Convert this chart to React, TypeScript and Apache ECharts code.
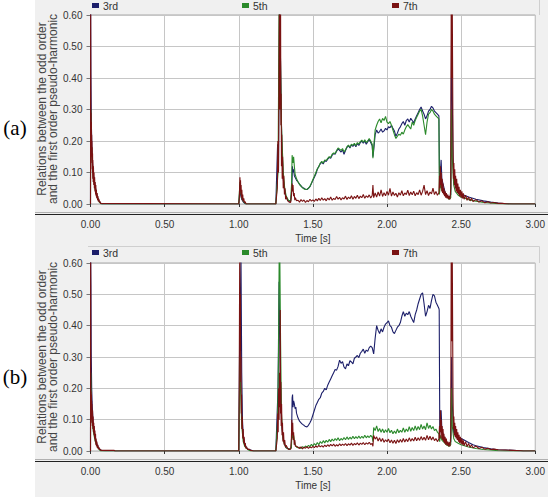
import React, { useEffect, useRef } from "react";
import * as echarts from "echarts";

type P = [number, number];

const SERIES_NAMES = ["3rd", "5th", "7th"];
const X_TICKS = [0, 0.5, 1, 1.5, 2, 2.5, 3];
const Y_TICKS = [0, 0.1, 0.2, 0.3, 0.4, 0.5, 0.6];

// Panel (a)
const A_3RD: P[] = [
  [0, 0], [0.001, 0.62], [0.003, 0.41], [0.006, 0.25], [0.01, 0.17], [0.015, 0.12], [0.02, 0.09], [0.03, 0.06], [0.04, 0.035], [0.05, 0.018], [0.06, 0.008], [0.07, 0.002], [0.08, 0],
  [1.0, 0], [1.008, 0.05], [1.012, 0.03], [1.02, 0.015], [1.03, 0.007], [1.04, 0.002], [1.05, 0],
  [1.25, 0], [1.262, 0.19], [1.268, 0.1], [1.275, 0.62], [1.282, 0.45], [1.29, 0.2], [1.3, 0.08], [1.31, 0.04], [1.32, 0.02], [1.335, 0.01], [1.35, 0.008],
  [1.358, 0.05], [1.362, 0.12], [1.366, 0.1], [1.37, 0.11], [1.375, 0.09], [1.38, 0.085], [1.39, 0.075], [1.4, 0.07], [1.41, 0.062], [1.42, 0.058], [1.43, 0.052], [1.44, 0.05], [1.45, 0.047], [1.46, 0.046], [1.47, 0.05], [1.48, 0.055], [1.49, 0.065],
  [1.5, 0.075], [1.51, 0.085], [1.52, 0.095], [1.53, 0.11], [1.54, 0.12], [1.55, 0.128], [1.56, 0.132], [1.57, 0.127], [1.58, 0.138], [1.59, 0.135],
  [1.6, 0.142], [1.61, 0.148], [1.62, 0.145], [1.63, 0.155], [1.64, 0.16], [1.65, 0.158], [1.66, 0.168], [1.67, 0.175], [1.68, 0.17], [1.69, 0.165],
  [1.7, 0.172], [1.71, 0.158], [1.72, 0.17], [1.73, 0.18], [1.74, 0.185], [1.75, 0.178], [1.76, 0.188], [1.77, 0.183], [1.78, 0.19], [1.79, 0.182],
  [1.8, 0.192], [1.81, 0.186], [1.82, 0.195], [1.83, 0.2], [1.84, 0.193], [1.85, 0.2], [1.86, 0.19], [1.87, 0.198], [1.88, 0.205], [1.89, 0.195],
  [1.9, 0.185], [1.905, 0.15], [1.91, 0.17], [1.92, 0.22], [1.93, 0.235], [1.94, 0.225], [1.95, 0.23], [1.96, 0.238], [1.97, 0.228], [1.98, 0.232], [1.99, 0.24],
  [2.0, 0.235], [2.01, 0.245], [2.02, 0.242], [2.03, 0.25], [2.04, 0.24], [2.05, 0.232], [2.06, 0.215], [2.07, 0.225], [2.08, 0.238], [2.09, 0.245],
  [2.1, 0.255], [2.11, 0.262], [2.12, 0.25], [2.13, 0.265], [2.14, 0.27], [2.15, 0.26], [2.16, 0.272], [2.17, 0.265], [2.18, 0.258], [2.19, 0.27],
  [2.2, 0.28], [2.21, 0.29], [2.22, 0.3], [2.23, 0.308], [2.24, 0.295], [2.25, 0.285], [2.26, 0.27], [2.27, 0.28], [2.28, 0.295], [2.29, 0.3],
  [2.3, 0.31], [2.31, 0.305], [2.32, 0.295], [2.33, 0.29], [2.34, 0.285], [2.35, 0.28], [2.355, 0.05], [2.36, 0.1], [2.365, 0.14], [2.37, 0.08], [2.38, 0.06], [2.39, 0.04],
  [2.4, 0.03], [2.41, 0.025], [2.42, 0.02], [2.43, 0.03], [2.435, 0.52], [2.44, 0.35], [2.445, 0.15], [2.45, 0.09], [2.46, 0.06], [2.47, 0.045], [2.48, 0.04],
  [2.5, 0.032], [2.55, 0.022], [2.6, 0.015], [2.65, 0.01], [2.7, 0.006], [2.75, 0.003], [2.8, 0.001], [2.85, 0], [3.0, 0],
];

const A_5TH: P[] = [
  [0, 0], [0.002, 0.3], [0.005, 0.2], [0.01, 0.15], [0.02, 0.08], [0.03, 0.05], [0.04, 0.03], [0.05, 0.015], [0.06, 0.006], [0.07, 0],
  [1.0, 0], [1.008, 0.07], [1.012, 0.04], [1.02, 0.02], [1.03, 0.01], [1.04, 0.003], [1.05, 0],
  [1.25, 0], [1.265, 0.1], [1.272, 0.62], [1.28, 0.5], [1.288, 0.25], [1.3, 0.1], [1.31, 0.05], [1.32, 0.025], [1.335, 0.012], [1.35, 0.01],
  [1.356, 0.06], [1.36, 0.155], [1.365, 0.13], [1.37, 0.15], [1.375, 0.12], [1.38, 0.095], [1.39, 0.08], [1.4, 0.07], [1.41, 0.063], [1.42, 0.056], [1.43, 0.052], [1.44, 0.048], [1.45, 0.046], [1.46, 0.047], [1.47, 0.05], [1.48, 0.056], [1.49, 0.066],
  [1.5, 0.078], [1.51, 0.088], [1.52, 0.1], [1.53, 0.112], [1.54, 0.118], [1.55, 0.13], [1.56, 0.135], [1.57, 0.13], [1.58, 0.14], [1.59, 0.138],
  [1.6, 0.145], [1.61, 0.15], [1.62, 0.148], [1.63, 0.158], [1.64, 0.162], [1.65, 0.16], [1.66, 0.17], [1.67, 0.178], [1.68, 0.174], [1.69, 0.17],
  [1.7, 0.176], [1.71, 0.165], [1.72, 0.172], [1.73, 0.182], [1.74, 0.187], [1.75, 0.18], [1.76, 0.19], [1.77, 0.186], [1.78, 0.193], [1.79, 0.185],
  [1.8, 0.195], [1.81, 0.19], [1.82, 0.198], [1.83, 0.203], [1.84, 0.196], [1.85, 0.204], [1.86, 0.195], [1.87, 0.2], [1.88, 0.208], [1.89, 0.2],
  [1.9, 0.19], [1.905, 0.145], [1.91, 0.18], [1.92, 0.235], [1.93, 0.25], [1.94, 0.262], [1.95, 0.27], [1.96, 0.258], [1.97, 0.272], [1.98, 0.265], [1.99, 0.278],
  [2.0, 0.26], [2.01, 0.255], [2.02, 0.262], [2.03, 0.25], [2.04, 0.235], [2.05, 0.22], [2.06, 0.208], [2.07, 0.215], [2.08, 0.222], [2.09, 0.218],
  [2.1, 0.228], [2.11, 0.222], [2.12, 0.235], [2.13, 0.245], [2.14, 0.252], [2.15, 0.245], [2.16, 0.238], [2.17, 0.26], [2.18, 0.25], [2.19, 0.265],
  [2.2, 0.275], [2.21, 0.285], [2.22, 0.295], [2.23, 0.3], [2.24, 0.28], [2.25, 0.25], [2.26, 0.22], [2.27, 0.26], [2.28, 0.285], [2.29, 0.29],
  [2.3, 0.3], [2.31, 0.295], [2.32, 0.285], [2.33, 0.28], [2.34, 0.275], [2.35, 0.27], [2.353, 0.03], [2.36, 0.06], [2.37, 0.05], [2.38, 0.035],
  [2.4, 0.025], [2.42, 0.015], [2.43, 0.02], [2.435, 0.3], [2.44, 0.15], [2.45, 0.06], [2.46, 0.04], [2.48, 0.028],
  [2.5, 0.022], [2.55, 0.014], [2.6, 0.009], [2.65, 0.005], [2.7, 0.003], [2.75, 0.001], [2.8, 0], [3.0, 0],
];

const A_7TH: P[] = [
  [0, 0], [0.001, 0.65], [0.002, 0.3], [0.003, 0.22], [0.004, 0.29], [0.005, 0.18], [0.006, 0.26], [0.007, 0.15], [0.008, 0.22], [0.009, 0.13], [0.01, 0.2], [0.011, 0.11], [0.012, 0.18], [0.013, 0.1], [0.014, 0.16], [0.015, 0.08], [0.016, 0.14], [0.018, 0.07], [0.02, 0.12], [0.022, 0.06], [0.024, 0.1], [0.026, 0.05], [0.028, 0.085], [0.03, 0.04], [0.032, 0.07], [0.034, 0.03], [0.036, 0.06], [0.038, 0.025], [0.04, 0.045], [0.042, 0.018], [0.045, 0.035], [0.048, 0.012], [0.05, 0.025], [0.053, 0.008], [0.056, 0.016], [0.06, 0.005], [0.064, 0.008], [0.068, 0.002], [0.07, 0],
  [1.0, 0], [1.004, 0.02], [1.006, 0.06], [1.008, 0.085], [1.01, 0.04], [1.012, 0.075], [1.014, 0.03], [1.016, 0.06], [1.018, 0.02], [1.021, 0.045], [1.024, 0.012], [1.027, 0.03], [1.03, 0.008], [1.034, 0.018], [1.038, 0.004], [1.042, 0.008], [1.05, 0],
  [1.25, 0], [1.26, 0.05], [1.264, 0.2], [1.268, 0.1], [1.271, 0.4], [1.274, 0.65], [1.276, 0.3], [1.278, 0.65], [1.28, 0.4], [1.282, 0.65], [1.284, 0.25], [1.286, 0.35], [1.288, 0.12], [1.29, 0.22], [1.293, 0.08], [1.296, 0.15], [1.3, 0.05], [1.304, 0.09], [1.308, 0.03], [1.312, 0.05], [1.316, 0.015], [1.32, 0.025], [1.33, 0.01], [1.34, 0.006], [1.35, 0.005],
  [1.356, 0.03], [1.36, 0.065], [1.363, 0.04], [1.366, 0.06], [1.37, 0.025], [1.374, 0.035], [1.378, 0.012], [1.382, 0.02], [1.39, 0.01],
  [1.4, 0.012], [1.41, 0.006], [1.42, 0.014], [1.43, 0.008], [1.44, 0.013], [1.45, 0.005], [1.46, 0.011], [1.47, 0.007], [1.48, 0.015], [1.49, 0.009],
  [1.5, 0.013], [1.51, 0.008], [1.52, 0.016], [1.53, 0.01], [1.54, 0.018], [1.55, 0.011], [1.56, 0.02], [1.57, 0.012], [1.58, 0.017], [1.59, 0.01],
  [1.6, 0.019], [1.61, 0.013], [1.62, 0.022], [1.63, 0.012], [1.64, 0.018], [1.65, 0.014], [1.66, 0.024], [1.67, 0.015], [1.68, 0.021], [1.69, 0.013],
  [1.7, 0.02], [1.71, 0.016], [1.72, 0.025], [1.73, 0.014], [1.74, 0.022], [1.75, 0.017], [1.76, 0.026], [1.77, 0.015], [1.78, 0.024], [1.79, 0.018],
  [1.8, 0.028], [1.81, 0.017], [1.82, 0.025], [1.83, 0.02], [1.84, 0.03], [1.85, 0.018], [1.86, 0.026], [1.87, 0.021], [1.88, 0.029], [1.89, 0.019],
  [1.9, 0.027], [1.905, 0.06], [1.91, 0.02], [1.92, 0.035], [1.93, 0.022], [1.94, 0.038], [1.95, 0.025], [1.96, 0.045], [1.97, 0.024], [1.98, 0.036], [1.99, 0.026],
  [2.0, 0.04], [2.01, 0.028], [2.02, 0.05], [2.03, 0.025], [2.04, 0.038], [2.05, 0.027], [2.06, 0.034], [2.07, 0.022], [2.08, 0.036], [2.09, 0.028],
  [2.1, 0.042], [2.11, 0.026], [2.12, 0.035], [2.13, 0.03], [2.14, 0.044], [2.15, 0.027], [2.16, 0.038], [2.17, 0.029], [2.18, 0.041], [2.19, 0.026],
  [2.2, 0.036], [2.21, 0.03], [2.22, 0.045], [2.23, 0.028], [2.24, 0.04], [2.25, 0.06], [2.26, 0.03], [2.27, 0.042], [2.28, 0.027], [2.29, 0.038],
  [2.3, 0.032], [2.31, 0.05], [2.32, 0.03], [2.33, 0.04], [2.34, 0.028], [2.35, 0.036], [2.354, 0.09], [2.357, 0.05], [2.36, 0.12], [2.363, 0.06], [2.366, 0.1], [2.369, 0.04], [2.372, 0.08], [2.375, 0.035], [2.378, 0.065], [2.381, 0.03], [2.384, 0.05], [2.388, 0.025], [2.392, 0.04], [2.396, 0.02],
  [2.4, 0.035], [2.405, 0.018], [2.41, 0.03], [2.415, 0.015], [2.42, 0.025], [2.425, 0.015], [2.43, 0.05], [2.433, 0.65], [2.436, 0.4], [2.44, 0.65], [2.445, 0.2],
  [2.448, 0.08], [2.451, 0.13], [2.454, 0.06], [2.457, 0.11], [2.46, 0.05], [2.463, 0.09], [2.466, 0.04], [2.47, 0.08], [2.474, 0.035], [2.478, 0.065], [2.482, 0.03], [2.486, 0.055], [2.49, 0.025], [2.495, 0.045],
  [2.5, 0.02], [2.505, 0.04], [2.51, 0.018], [2.515, 0.034], [2.52, 0.015], [2.53, 0.028], [2.54, 0.012], [2.55, 0.022], [2.56, 0.01], [2.57, 0.018], [2.58, 0.008], [2.6, 0.014], [2.62, 0.006], [2.64, 0.01], [2.66, 0.004], [2.68, 0.007],
  [2.7, 0.003], [2.72, 0.005], [2.75, 0.002], [2.78, 0.002], [2.8, 0.001], [2.82, 0], [3.0, 0],
];

// Panel (b)
const B_3RD: P[] = [
  [0, 0], [0.001, 0.62], [0.003, 0.53], [0.005, 0.31], [0.008, 0.2], [0.012, 0.14], [0.018, 0.09], [0.025, 0.06], [0.035, 0.035], [0.045, 0.02], [0.055, 0.01], [0.065, 0.004], [0.075, 0.002], [0.1, 0.001], [0.16, 0.001], [0.165, 0],
  [1.0, 0], [1.005, 0.3], [1.01, 0.44], [1.015, 0.62], [1.02, 0.25], [1.025, 0.1], [1.03, 0.05], [1.04, 0.025], [1.05, 0.012], [1.06, 0.006], [1.08, 0.003], [1.1, 0],
  [1.25, 0], [1.265, 0.2], [1.272, 0.54], [1.278, 0.3], [1.285, 0.15], [1.29, 0.08], [1.3, 0.04], [1.31, 0.02], [1.32, 0.01], [1.34, 0.006],
  [1.355, 0.01], [1.36, 0.17], [1.363, 0.18], [1.366, 0.14], [1.37, 0.16], [1.375, 0.15], [1.38, 0.135], [1.385, 0.14], [1.39, 0.12],
  [1.4, 0.105], [1.41, 0.095], [1.42, 0.09], [1.43, 0.085], [1.44, 0.082], [1.45, 0.078], [1.46, 0.077], [1.47, 0.082], [1.48, 0.09], [1.49, 0.1],
  [1.5, 0.115], [1.51, 0.13], [1.52, 0.145], [1.53, 0.155], [1.54, 0.165], [1.55, 0.17], [1.56, 0.185], [1.57, 0.19], [1.58, 0.2], [1.59, 0.195],
  [1.6, 0.21], [1.61, 0.22], [1.62, 0.23], [1.63, 0.24], [1.64, 0.25], [1.65, 0.26], [1.66, 0.258], [1.67, 0.27], [1.68, 0.29], [1.69, 0.28],
  [1.7, 0.285], [1.71, 0.268], [1.72, 0.262], [1.73, 0.278], [1.74, 0.272], [1.75, 0.288], [1.76, 0.284], [1.77, 0.278], [1.78, 0.296], [1.79, 0.3],
  [1.8, 0.305], [1.81, 0.298], [1.82, 0.312], [1.83, 0.318], [1.84, 0.325], [1.85, 0.312], [1.86, 0.322], [1.87, 0.318], [1.88, 0.33], [1.89, 0.335],
  [1.9, 0.33], [1.91, 0.31], [1.92, 0.36], [1.93, 0.4], [1.94, 0.385], [1.95, 0.375], [1.96, 0.39], [1.97, 0.38], [1.98, 0.395], [1.99, 0.405],
  [2.0, 0.41], [2.01, 0.415], [2.02, 0.4], [2.03, 0.395], [2.04, 0.38], [2.05, 0.375], [2.06, 0.385], [2.07, 0.395], [2.08, 0.4], [2.09, 0.41],
  [2.1, 0.43], [2.11, 0.445], [2.12, 0.43], [2.13, 0.44], [2.14, 0.435], [2.15, 0.445], [2.16, 0.43], [2.17, 0.42], [2.18, 0.41], [2.19, 0.435],
  [2.2, 0.45], [2.21, 0.47], [2.22, 0.485], [2.23, 0.5], [2.24, 0.505], [2.25, 0.47], [2.26, 0.43], [2.27, 0.445], [2.28, 0.465], [2.29, 0.455],
  [2.3, 0.48], [2.31, 0.5], [2.32, 0.495], [2.33, 0.475], [2.34, 0.465], [2.35, 0.455], [2.352, 0.45], [2.356, 0.06], [2.36, 0.1], [2.365, 0.13], [2.37, 0.07], [2.38, 0.05], [2.39, 0.035],
  [2.4, 0.03], [2.41, 0.025], [2.42, 0.022], [2.43, 0.03], [2.436, 0.3], [2.44, 0.15], [2.45, 0.06], [2.46, 0.05], [2.47, 0.048], [2.48, 0.045], [2.49, 0.042],
  [2.5, 0.04], [2.52, 0.035], [2.55, 0.027], [2.58, 0.02], [2.6, 0.017], [2.65, 0.011], [2.7, 0.007], [2.75, 0.004], [2.8, 0.003], [2.85, 0.002], [2.9, 0.001], [2.92, 0], [3.0, 0],
];

const B_5TH: P[] = [
  [0, 0], [0.002, 0.25], [0.005, 0.15], [0.01, 0.1], [0.02, 0.06], [0.03, 0.035], [0.04, 0.02], [0.05, 0.01], [0.06, 0.004], [0.07, 0],
  [1.0, 0], [1.008, 0.3], [1.012, 0.2], [1.02, 0.08], [1.03, 0.03], [1.04, 0.015], [1.06, 0.005], [1.08, 0],
  [1.25, 0], [1.262, 0.1], [1.268, 0.3], [1.273, 0.65], [1.277, 0.62], [1.282, 0.35], [1.288, 0.12], [1.295, 0.06], [1.3, 0.035], [1.31, 0.02], [1.32, 0.01], [1.34, 0.005],
  [1.355, 0.01], [1.36, 0.08], [1.365, 0.04], [1.37, 0.05], [1.38, 0.02], [1.39, 0.012],
  [1.4, 0.01], [1.41, 0.012], [1.42, 0.008], [1.43, 0.014], [1.44, 0.01], [1.45, 0.016], [1.46, 0.012], [1.47, 0.018], [1.48, 0.014], [1.49, 0.021],
  [1.5, 0.016], [1.51, 0.024], [1.52, 0.018], [1.53, 0.027], [1.54, 0.02], [1.55, 0.03], [1.56, 0.024], [1.57, 0.033], [1.58, 0.026], [1.59, 0.034],
  [1.6, 0.028], [1.61, 0.037], [1.62, 0.03], [1.63, 0.038], [1.64, 0.032], [1.65, 0.04], [1.66, 0.034], [1.67, 0.042], [1.68, 0.033], [1.69, 0.04],
  [1.7, 0.035], [1.71, 0.043], [1.72, 0.036], [1.73, 0.045], [1.74, 0.037], [1.75, 0.044], [1.76, 0.038], [1.77, 0.047], [1.78, 0.039], [1.79, 0.046],
  [1.8, 0.04], [1.81, 0.048], [1.82, 0.04], [1.83, 0.047], [1.84, 0.041], [1.85, 0.05], [1.86, 0.042], [1.87, 0.048], [1.88, 0.043], [1.89, 0.05],
  [1.9, 0.044], [1.905, 0.03], [1.91, 0.075], [1.92, 0.065], [1.93, 0.08], [1.94, 0.062], [1.95, 0.072], [1.96, 0.06], [1.97, 0.07], [1.98, 0.058], [1.99, 0.068],
  [2.0, 0.06], [2.01, 0.072], [2.02, 0.058], [2.03, 0.066], [2.04, 0.055], [2.05, 0.064], [2.06, 0.056], [2.07, 0.07], [2.08, 0.058], [2.09, 0.066],
  [2.1, 0.06], [2.11, 0.074], [2.12, 0.06], [2.13, 0.07], [2.14, 0.062], [2.15, 0.078], [2.16, 0.063], [2.17, 0.075], [2.18, 0.065], [2.19, 0.08],
  [2.2, 0.066], [2.21, 0.078], [2.22, 0.068], [2.23, 0.085], [2.24, 0.07], [2.25, 0.08], [2.26, 0.068], [2.27, 0.09], [2.28, 0.072], [2.29, 0.082],
  [2.3, 0.07], [2.31, 0.078], [2.32, 0.065], [2.33, 0.07], [2.34, 0.06], [2.35, 0.055], [2.355, 0.03], [2.36, 0.05], [2.37, 0.035], [2.38, 0.03],
  [2.4, 0.02], [2.42, 0.015], [2.43, 0.02], [2.436, 0.2], [2.44, 0.08], [2.45, 0.04], [2.46, 0.03], [2.48, 0.025],
  [2.5, 0.02], [2.55, 0.013], [2.6, 0.008], [2.65, 0.005], [2.7, 0.003], [2.75, 0.001], [2.8, 0], [3.0, 0],
];

const B_7TH: P[] = [
  [0, 0], [0.001, 0.65], [0.002, 0.2], [0.003, 0.14], [0.004, 0.19], [0.005, 0.12], [0.006, 0.18], [0.007, 0.1], [0.008, 0.16], [0.009, 0.09], [0.01, 0.15], [0.012, 0.08], [0.014, 0.13], [0.016, 0.07], [0.018, 0.11], [0.02, 0.06], [0.022, 0.09], [0.024, 0.05], [0.026, 0.08], [0.028, 0.04], [0.03, 0.065], [0.032, 0.03], [0.034, 0.055], [0.036, 0.02], [0.038, 0.04], [0.04, 0.015], [0.043, 0.03], [0.046, 0.01], [0.05, 0.02], [0.053, 0.006], [0.056, 0.012], [0.06, 0.004], [0.065, 0.006], [0.07, 0.002], [0.1, 0.002], [0.16, 0.002], [0.165, 0],
  [1.0, 0], [1.003, 0.2], [1.005, 0.45], [1.007, 0.65], [1.009, 0.34], [1.011, 0.5], [1.013, 0.22], [1.015, 0.3], [1.017, 0.12], [1.019, 0.18], [1.021, 0.07], [1.024, 0.11], [1.027, 0.04], [1.03, 0.07], [1.033, 0.025], [1.036, 0.045], [1.04, 0.015], [1.044, 0.025], [1.048, 0.008], [1.052, 0.014], [1.06, 0.005], [1.07, 0.006], [1.08, 0.002], [1.1, 0],
  [1.25, 0], [1.26, 0.04], [1.263, 0.12], [1.266, 0.06], [1.269, 0.2], [1.272, 0.1], [1.275, 0.25], [1.278, 0.14], [1.28, 0.45], [1.282, 0.12], [1.284, 0.22], [1.286, 0.08], [1.289, 0.15], [1.292, 0.05], [1.295, 0.09], [1.298, 0.03], [1.302, 0.06], [1.306, 0.02], [1.31, 0.035], [1.315, 0.012], [1.32, 0.018], [1.33, 0.008], [1.34, 0.005], [1.35, 0.006],
  [1.355, 0.04], [1.358, 0.1], [1.361, 0.05], [1.364, 0.09], [1.367, 0.035], [1.37, 0.06], [1.374, 0.02], [1.378, 0.035], [1.382, 0.015], [1.39, 0.015],
  [1.4, 0.012], [1.41, 0.008], [1.42, 0.013], [1.43, 0.007], [1.44, 0.012], [1.45, 0.009], [1.46, 0.014], [1.47, 0.008], [1.48, 0.013], [1.49, 0.01],
  [1.5, 0.015], [1.51, 0.011], [1.52, 0.016], [1.53, 0.012], [1.54, 0.018], [1.55, 0.013], [1.56, 0.017], [1.57, 0.012], [1.58, 0.019], [1.59, 0.014],
  [1.6, 0.02], [1.61, 0.015], [1.62, 0.021], [1.63, 0.016], [1.64, 0.022], [1.65, 0.015], [1.66, 0.02], [1.67, 0.016], [1.68, 0.023], [1.69, 0.017],
  [1.7, 0.022], [1.71, 0.018], [1.72, 0.024], [1.73, 0.017], [1.74, 0.023], [1.75, 0.019], [1.76, 0.025], [1.77, 0.018], [1.78, 0.024], [1.79, 0.02],
  [1.8, 0.026], [1.81, 0.019], [1.82, 0.025], [1.83, 0.021], [1.84, 0.027], [1.85, 0.02], [1.86, 0.026], [1.87, 0.022], [1.88, 0.028], [1.89, 0.021],
  [1.9, 0.024], [1.905, 0.015], [1.91, 0.05], [1.92, 0.038], [1.93, 0.045], [1.94, 0.032], [1.95, 0.042], [1.96, 0.03], [1.97, 0.04], [1.98, 0.028], [1.99, 0.036],
  [2.0, 0.03], [2.01, 0.038], [2.02, 0.026], [2.03, 0.035], [2.04, 0.025], [2.05, 0.034], [2.06, 0.024], [2.07, 0.036], [2.08, 0.027], [2.09, 0.037],
  [2.1, 0.028], [2.11, 0.04], [2.12, 0.029], [2.13, 0.038], [2.14, 0.03], [2.15, 0.042], [2.16, 0.031], [2.17, 0.04], [2.18, 0.032], [2.19, 0.044],
  [2.2, 0.033], [2.21, 0.042], [2.22, 0.034], [2.23, 0.046], [2.24, 0.035], [2.25, 0.044], [2.26, 0.034], [2.27, 0.05], [2.28, 0.036], [2.29, 0.047],
  [2.3, 0.035], [2.31, 0.045], [2.32, 0.033], [2.33, 0.04], [2.34, 0.03], [2.35, 0.038], [2.354, 0.08], [2.357, 0.04], [2.36, 0.13], [2.363, 0.06], [2.366, 0.1], [2.369, 0.04], [2.372, 0.08], [2.375, 0.035], [2.378, 0.07], [2.381, 0.03], [2.384, 0.055], [2.388, 0.025], [2.392, 0.045], [2.396, 0.02],
  [2.4, 0.04], [2.405, 0.018], [2.41, 0.03], [2.415, 0.015], [2.42, 0.028], [2.425, 0.015], [2.43, 0.05], [2.433, 0.65], [2.436, 0.35], [2.44, 0.65], [2.445, 0.18],
  [2.448, 0.07], [2.451, 0.11], [2.454, 0.05], [2.457, 0.09], [2.46, 0.045], [2.463, 0.08], [2.466, 0.04], [2.47, 0.07], [2.474, 0.035], [2.478, 0.06], [2.482, 0.03], [2.486, 0.052], [2.49, 0.026], [2.495, 0.045],
  [2.5, 0.022], [2.505, 0.04], [2.51, 0.02], [2.515, 0.034], [2.52, 0.017], [2.53, 0.03], [2.54, 0.014], [2.55, 0.024], [2.56, 0.012], [2.57, 0.02], [2.58, 0.01], [2.6, 0.016], [2.62, 0.008], [2.64, 0.012], [2.66, 0.006], [2.68, 0.009],
  [2.7, 0.005], [2.72, 0.006], [2.75, 0.004], [2.8, 0.003], [2.85, 0.002], [2.9, 0.001], [2.92, 0], [3.0, 0],
];

const COLORS = ["#1c1f6a", "#2b8a2b", "#7a1212"];
const Y_NAME = "Relations between the odd order\nand the first order pseudo-harmonic";
const X_NAME = "Time [s]";

export default function App() {
  const ref = useRef<HTMLDivElement>(null);
  useEffect(() => {
    document.body.style.margin = "0";
    if (!ref.current) return;
    const chart = echarts.init(ref.current, undefined, { renderer: "svg" });
    const panels = [
      { top: 15, height: 189, data: [A_3RD, A_5TH, A_7TH], legendTop: 0, nameY: 109, axisY: 214.5, tag: "(a)", tagY: 128 },
      { top: 263, height: 188, data: [B_3RD, B_5TH, B_7TH], legendTop: 247, nameY: 357, axisY: 461.5, tag: "(b)", tagY: 377 },
    ];
    const fmt = (v: number) => v.toFixed(2);
    const option: any = {
      animation: false,
      backgroundColor: "transparent",
      textStyle: { fontFamily: "Liberation Sans, Arial, sans-serif" },
      grid: panels.map((p) => ({
        left: 90.5, top: p.top, width: 449.5, height: p.height,
        show: true, backgroundColor: "#ffffff", borderColor: "#a8a8a8", borderWidth: 1,
      })),
      legend: panels.flatMap((p) =>
        SERIES_NAMES.map((n, i) => ({
          data: [n], left: 92 + i * 150, top: p.legendTop, padding: 0,
          itemWidth: 7, itemHeight: 5, itemGap: 0, icon: "rect",
          textStyle: { fontSize: 10.5, color: "#333", padding: [0, 0, 0, -1] },
        }))
      ),
      xAxis: panels.map((_, gi) => ({
        type: "value", gridIndex: gi, min: X_TICKS[0], max: X_TICKS[X_TICKS.length - 1], interval: 0.5,
        offset: 10, axisLine: { show: false },
        axisTick: { show: true, length: 3, lineStyle: { color: "#333" } },
        axisLabel: { formatter: fmt, fontSize: 10, color: "#333", margin: 5, showMinLabel: true, showMaxLabel: true },
        splitLine: { show: true, lineStyle: { color: "#c6c6c6", width: 1 } },
        name: X_NAME, nameLocation: "middle", nameGap: 19, nameTextStyle: { fontSize: 10, color: "#333" },
      })),
      yAxis: panels.map((_, gi) => ({
        type: "value", gridIndex: gi, min: Y_TICKS[0], max: Y_TICKS[Y_TICKS.length - 1], interval: 0.1,
        axisLine: { show: true, lineStyle: { color: "#888" } },
        axisTick: { show: true, length: 4, lineStyle: { color: "#777" } },
        axisLabel: { formatter: fmt, fontSize: 10, color: "#333", margin: 8 },
        splitLine: { show: true, lineStyle: { color: "#c6c6c6", width: 1 } },
      })),
      series: panels.flatMap((p, gi) =>
        p.data.map((d, si) => ({
          name: SERIES_NAMES[si], type: "line", xAxisIndex: gi, yAxisIndex: gi,
          data: d, showSymbol: false, symbol: "none", clip: true,
          lineStyle: { width: 1.1, color: COLORS[si] }, itemStyle: { color: COLORS[si] },
        }))
      ),
      graphic: panels.flatMap((p) => [
        { type: "line", shape: { x1: 35, y1: p.axisY - 2, x2: 548, y2: p.axisY - 2 }, style: { stroke: "#b0b0b0", lineWidth: 1 } },
        { type: "line", shape: { x1: 35, y1: p.axisY, x2: 548, y2: p.axisY }, style: { stroke: "#222", lineWidth: 1.2 } },
        { type: "polyline", shape: { points: [[88, p.legendTop - 0.5], [539.5, p.legendTop - 0.5], [539.5, p.top]] }, style: { stroke: "#cfcfcf", fill: null, lineWidth: 1 } },
        {
          type: "text", x: 47, y: p.nameY, rotation: Math.PI / 2,
          style: { text: Y_NAME, fontSize: 12, lineHeight: 11, fill: "#444", align: "center", verticalAlign: "middle", fontFamily: "Liberation Sans, Arial, sans-serif" },
        },
        {
          type: "text", x: 15, y: p.tagY,
          style: { text: p.tag, fontSize: 21, fill: "#000", align: "center", verticalAlign: "middle", fontFamily: "Liberation Serif, Times New Roman, serif" },
        },
      ]),
    };
    chart.setOption(option);
    return () => chart.dispose();
  }, []);
  return (
    <div style={{ width: 548, height: 497, background: "linear-gradient(to right, #ffffff 35px, #f0f0f0 35px)" }}>
      <div ref={ref} style={{ width: 548, height: 497 }} />
    </div>
  );
}
